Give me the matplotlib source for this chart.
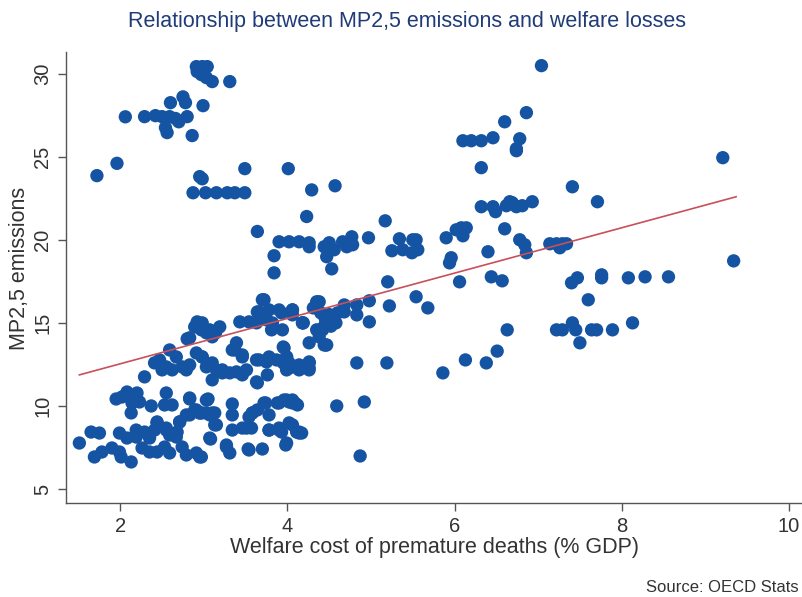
import matplotlib
matplotlib.use("Agg")
import matplotlib.pyplot as plt
import numpy as np

plt.rcParams['font.family'] = ['Liberation Sans', 'DejaVu Sans']

title = "Relationship between MP2,5 emissions and welfare losses"
x_label = "Welfare cost of premature deaths (% GDP)"
y_label = "MP2,5 emissions"
source = "Source: OECD Stats"
x_ticks = [2, 4, 6, 8, 10]
y_ticks = [5, 10, 15, 20, 25, 30]

# welfare cost (% GDP)
welfare = [
    1.72, 1.96, 2.06, 2.29, 2.42, 2.50, 2.59, 2.66, 2.80, 2.70,
    2.54, 2.56, 2.60, 2.75, 2.78, 2.86, 2.99, 3.31,
    2.91, 2.98, 3.04, 2.92, 2.97, 3.03, 3.10,
    2.87, 3.02, 3.15, 3.28, 3.37, 3.49,
    2.95, 2.98, 3.49, 4.01, 4.29, 4.57, 4.23, 3.64,
    3.84, 3.84, 3.90, 4.02, 4.14, 4.26, 4.26,
    4.44, 4.47, 4.50, 4.56, 4.66, 4.71, 4.77, 4.78,
    4.53, 4.97, 5.17,
    5.25, 5.34, 5.38, 5.49, 5.50, 5.54, 5.56,
    5.20, 5.54, 5.22, 5.68,
    4.98, 4.98, 4.83, 4.83, 4.68, 4.68, 4.35, 4.38, 4.31, 4.19, 4.06, 4.06, 3.93,
    4.40, 4.45, 4.50, 4.55, 4.60, 4.45, 4.52, 4.58, 4.40,
    6.32, 6.74, 7.04, 6.86, 6.60,
    6.10, 6.20, 6.32, 6.46, 6.78, 6.74,
    7.41, 7.71, 9.21,
    6.32, 6.46, 6.49, 6.62, 6.66, 6.69, 6.74, 6.81, 6.93,
    6.60, 5.90, 6.02, 6.08, 6.12, 6.14, 6.10,
    6.40, 6.78, 6.84, 6.86,
    7.14, 7.22, 7.29, 7.34, 7.26,
    5.96, 5.94, 6.06, 6.44, 6.57,
    6.63, 6.51,
    7.40, 7.47, 7.76, 7.76, 8.08, 8.28, 8.56, 9.34,
    7.60,
    7.22, 7.29, 7.41, 7.45, 7.50, 7.64, 7.70, 7.89, 8.13,
    6.38, 6.13, 5.86,
    5.19, 4.83, 4.59, 4.92, 4.87,
    4.26, 4.46,
    3.95, 3.99, 3.95, 4.06, 4.14, 4.26, 4.26,
    3.99, 4.06, 4.12, 4.06, 4.14, 3.93, 3.98,
    3.05, 2.95, 3.03, 3.13, 3.13, 3.34, 3.34, 3.34, 3.08, 2.95, 3.27, 3.31, 3.53, 3.70,
    3.58, 3.54, 3.64, 3.74, 3.78, 3.46, 3.57, 3.78, 3.90, 4.02, 4.11, 4.17,
    3.88, 3.96, 4.02, 4.09,
    3.10, 3.22, 3.46, 3.64, 3.76, 3.99, 4.14, 4.26,
    3.70, 3.64, 3.78, 3.90, 4.06,
    3.19, 3.43, 3.54, 3.63, 3.75, 3.82, 3.94, 3.81,
    2.98, 3.07, 3.14,
    4.18, 4.35, 4.38, 4.44,
    3.39, 3.37, 3.46,
    2.98, 3.10, 3.22, 3.39, 3.51, 3.63, 3.75, 3.87, 3.96, 3.99, 4.14, 4.26, 4.02,
    2.92, 2.89, 2.97, 2.80,
    2.59, 2.47, 2.41, 2.55, 2.67, 2.74, 2.83, 2.91, 2.98, 3.03,
    2.29, 2.50, 2.62, 2.79,
    1.95, 2.02, 2.08, 2.14, 2.20, 2.14, 2.13, 2.23,
    2.37, 2.55, 2.53, 2.62, 2.83, 3.03,
    2.71, 2.79, 2.91, 2.98,
    1.65, 1.75, 1.51, 1.99, 2.08, 2.19, 2.29, 2.41, 2.44, 2.55, 2.59, 2.67, 2.35, 2.19,
    1.69, 1.78, 1.90, 2.01, 2.13, 1.99, 2.26, 2.35, 2.44, 2.53, 2.59, 2.74, 2.79, 2.91, 2.97,
    3.03, 3.10, 2.83,
    3.66, 3.72, 4.18, 4.35, 4.42, 4.47,
    3.34, 3.46, 3.66, 3.78, 4.02,
    3.15, 3.31, 3.63,
    2.83, 3.04, 2.89, 3.10,
    3.58, 3.72, 3.90, 4.06,
    2.71, 2.83, 2.95, 3.07, 3.15,
    3.51, 3.78, 3.90, 4.14, 3.99,
    3.07, 3.27, 3.54,
    2.44, 2.55, 2.68,
]

# PM2.5 emissions
pm25 = [
    23.86, 24.60, 27.40, 27.41, 27.47, 27.41, 27.41, 27.30, 27.41, 27.10,
    26.75, 26.45, 28.25, 28.60, 28.25, 26.27, 28.07, 29.52,
    30.42, 30.42, 30.42, 30.12, 29.94, 29.76, 29.52,
    22.83, 22.83, 22.83, 22.83, 22.83, 22.83,
    23.80, 23.67, 24.28, 24.28, 23.00, 23.25, 21.40, 20.50,
    19.04, 18.01, 19.88, 19.88, 19.88, 19.82, 19.58,
    19.58, 18.98, 19.82, 19.40, 19.88, 19.58, 20.18, 19.70,
    18.25, 20.12, 21.14,
    19.34, 20.06, 19.40, 19.22, 20.00, 20.00, 19.40,
    17.47, 16.57, 16.02, 15.90,
    16.33, 15.06, 16.08, 15.48, 16.08, 15.66, 16.27, 16.27, 15.90, 15.00, 15.78, 15.48, 15.60,
    15.60, 15.30, 15.50, 15.20, 15.60, 14.90, 14.80, 15.00, 14.60,
    24.34, 25.36, 30.48, 27.65, 27.10,
    25.96, 25.96, 25.96, 26.14, 26.08, 25.48,
    23.19, 22.29, 24.94,
    21.99, 21.99, 21.69, 22.05, 22.29, 22.23, 21.99, 22.05, 22.29,
    20.66, 20.12, 20.60, 20.72, 20.66, 20.72, 20.24,
    19.28, 20.00, 19.70, 19.22,
    19.76, 19.76, 19.76, 19.76, 19.52,
    18.92, 18.61, 17.47, 17.77, 17.53,
    14.58, 13.30,
    17.41, 17.71, 17.89, 17.71, 17.71, 17.77, 17.77, 18.73,
    16.39,
    14.58, 14.58, 15.00, 14.58, 13.80, 14.58, 14.58, 14.58, 15.00,
    12.59, 12.77, 11.99,
    12.59, 12.59, 10.00, 10.24, 6.99,
    13.80, 13.67,
    13.55, 12.95, 12.59, 12.35, 12.35, 12.59, 12.29,
    10.36, 10.36, 10.06, 8.86, 8.37, 8.43, 7.65,
    10.42, 9.58, 9.58, 9.58, 8.86, 10.12, 9.46, 8.55, 8.01, 6.93, 7.65, 7.17, 7.41, 7.41,
    9.58, 9.34, 9.76, 10.18, 9.46, 8.67, 8.67, 8.55, 8.55, 8.98, 8.43, 8.37,
    10.18, 10.36, 10.24, 10.18,
    11.57, 11.99, 11.87, 11.39, 11.87, 12.17, 12.17, 12.17,
    16.39, 15.66, 15.78, 15.78, 15.78,
    14.76, 15.06, 15.06, 15.00, 15.18, 15.00, 14.58, 14.58,
    15.00, 14.58, 14.40,
    15.00, 14.58, 14.16, 13.67,
    13.80, 13.37, 13.07,
    12.95, 12.59, 12.17, 12.05, 12.17, 12.77, 12.65, 12.77, 13.49, 12.95, 12.47, 12.65, 12.29,
    15.06, 14.76, 14.58, 14.04,
    13.37, 12.77, 12.59, 12.35, 12.95, 12.35, 12.47, 13.19, 12.95, 12.35,
    11.75, 12.17, 12.17, 12.17,
    10.42, 10.54, 10.84, 10.54, 10.78, 10.18, 9.58, 10.24,
    10.00, 10.78, 10.06, 10.06, 10.42, 10.36,
    9.04, 9.46, 9.76, 9.58,
    8.43, 8.37, 7.77, 8.37, 8.07, 8.55, 8.43, 8.55, 9.04, 8.67, 8.25, 8.13, 8.07, 8.13,
    6.93, 7.23, 7.47, 6.93, 6.63, 7.23, 7.47, 7.23, 7.23, 7.53, 7.17, 7.53, 7.05, 7.17, 6.93,
    14.40, 14.16, 14.10,
    15.66, 16.39, 15.00, 16.20, 14.58, 13.67,
    13.37, 12.95, 12.77, 12.95, 12.59,
    12.17, 11.99, 11.45,
    10.48, 10.36, 9.76, 9.58,
    9.58, 10.18, 10.18, 10.18,
    9.04, 9.46, 9.58, 9.46, 8.86,
    8.67, 8.55, 8.67, 8.43, 7.77,
    8.07, 7.53, 7.35,
    8.98, 8.55, 8.43,
]

# fitted line end points
fit_x = [1.51, 9.37]
fit_y = [11.87, 22.59]

n = min(len(welfare), len(pm25))
welfare = welfare[:n]
pm25 = pm25[:n]

fig = plt.figure(figsize=(8.03, 5.97), dpi=100)
ax = fig.add_axes([66/803, 1 - 503/597, 1 - 66/803, (503 - 52)/597])

dot_color = '#1553a3'
ax.scatter(welfare, pm25, s=92, color=dot_color, edgecolors='none', zorder=2)
ax.plot(fit_x, fit_y, color='#c8505a', lw=1.2, zorder=3)

ax.set_xlim(1.35, 10.17)
ax.set_ylim(4.16, 31.3)
ax.set_xticks(x_ticks)
ax.set_yticks(y_ticks)
ax.set_yticklabels([str(t) for t in y_ticks], rotation=90, va='center')

for s in ['top', 'right']:
    ax.spines[s].set_visible(False)
for s in ['left', 'bottom']:
    ax.spines[s].set_color('#555555')
    ax.spines[s].set_linewidth(1.0)

ax.tick_params(axis='both', direction='out', length=6, width=1.0, color='#555555',
               labelsize=14.5, labelcolor='#333333', pad=4)

ax.set_xlabel(x_label, fontsize=15.5, color='#333333', labelpad=1)
ax.set_ylabel(y_label, fontsize=15.5, color='#333333')
ax.yaxis.set_label_coords(-36/737, (503 - 268)/451)

fig.text(407/803, 1 - 22/597, title, ha='center', va='center', fontsize=15.5, color='#1f3c78')
fig.text(799/803, 1 - 588/597, source, ha='right', va='center', fontsize=12, color='#333333')

fig.savefig('out.png', dpi=100)
